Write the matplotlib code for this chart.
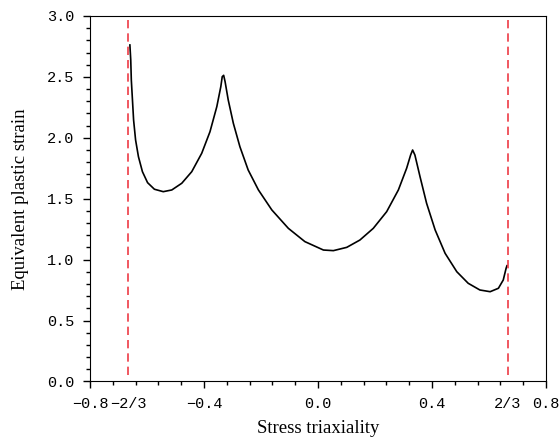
import numpy as np
import matplotlib
matplotlib.use('Agg')
import matplotlib.pyplot as plt
from matplotlib.ticker import MultipleLocator

# fracture locus
triax = [-0.660, -0.657, -0.655, -0.651, -0.647, -0.640, -0.630, -0.616, -0.598,
         -0.574, -0.543, -0.513, -0.478, -0.443, -0.408, -0.379, -0.355, -0.341,
         -0.336, -0.331, -0.326, -0.315, -0.297, -0.274, -0.245, -0.209, -0.162,
         -0.104, -0.046, 0.019, 0.054, 0.101, 0.147, 0.194, 0.241, 0.282, 0.311,
         0.325, 0.332, 0.340, 0.358, 0.381, 0.411, 0.446, 0.487, 0.527, 0.568,
         0.604, 0.633, 0.650, 0.660, 0.663]
strain = [2.762, 2.639, 2.475, 2.311, 2.146, 1.982, 1.845, 1.722, 1.632,
          1.578, 1.558, 1.572, 1.627, 1.722, 1.873, 2.050, 2.256, 2.420,
          2.502, 2.513, 2.461, 2.311, 2.119, 1.927, 1.736, 1.572, 1.408,
          1.257, 1.148, 1.079, 1.074, 1.101, 1.161, 1.257, 1.394, 1.572, 1.750,
          1.859, 1.900, 1.859, 1.681, 1.463, 1.244, 1.052, 0.901, 0.806, 0.751,
          0.737, 0.765, 0.833, 0.929, 0.950]

limits = [-2/3, 2/3]
xticks = [-0.8, -2/3, -0.4, 0.0, 0.4, 2/3, 0.8]
xticklabels = ['\u22120.8', '\u22122/3', '\u22120.4', '0.0', '0.4', '2/3', '0.8']
yticks = [0.0, 0.5, 1.0, 1.5, 2.0, 2.5, 3.0]

fig = plt.figure(figsize=(5.6, 4.44), dpi=100)
ax = fig.add_axes([0.1607, 0.1408, 0.8143, 0.8232])

ax.plot(triax, strain, color='black', lw=1.2, solid_joinstyle='round')
for xl in limits:
    ax.plot([xl, xl], [0.05, 3.0], color='#ee3b45', lw=1.2, ls=(0, (5, 3)))

ax.set_xlim(-0.8, 0.8)
ax.set_ylim(0, 3.0)

tickfont = {'family': 'Liberation Mono', 'size': 11}
ax.set_xticks(xticks)
ax.set_xticklabels(xticklabels, fontdict=tickfont)
ax.set_yticks(yticks)
ax.set_yticklabels(['%.1f' % v for v in yticks], fontdict=tickfont)
ax.xaxis.set_minor_locator(MultipleLocator(0.08))
ax.yaxis.set_minor_locator(MultipleLocator(0.1))
ax.tick_params(which='major', direction='out', length=5, width=1, pad=6)
ax.tick_params(which='minor', direction='out', length=3, width=1)
# no tick marks for the fraction labels
for i in (1, 5):
    ax.xaxis.get_major_ticks()[i].tick1line.set_markersize(0)

ax.set_xlabel('Stress triaxiality', family='Liberation Serif', fontsize=13.5, labelpad=7)
ax.set_ylabel('Equivalent plastic strain', family='Liberation Serif', fontsize=13.5, labelpad=13)

fig.savefig('out.png', dpi=100)
